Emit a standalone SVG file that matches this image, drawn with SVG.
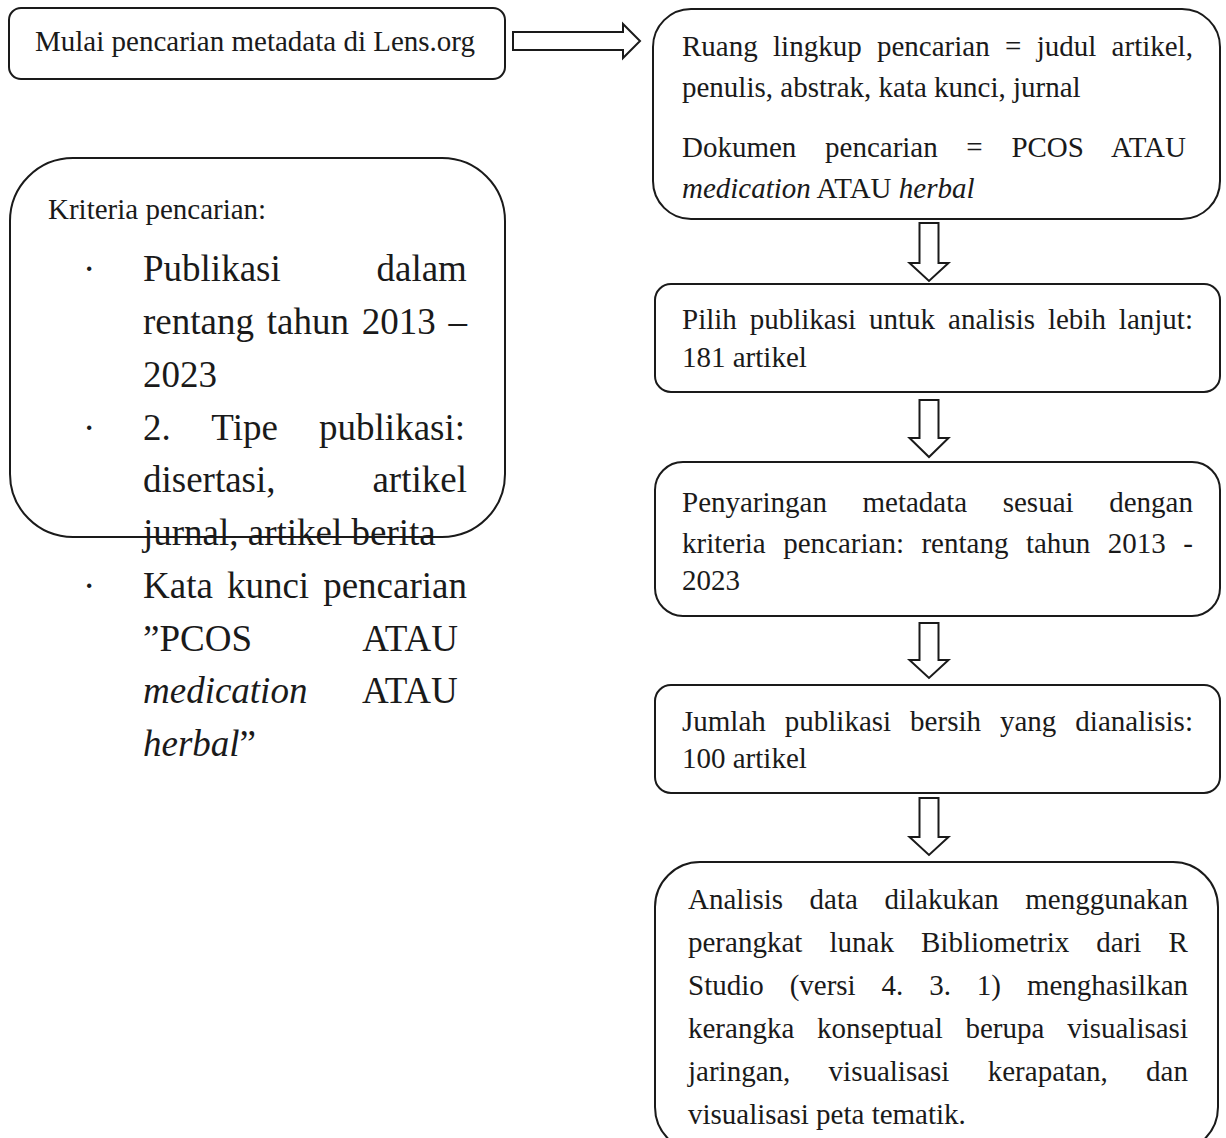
<svg xmlns="http://www.w3.org/2000/svg" width="1226" height="1138" viewBox="0 0 1226 1138">
<style>
.box{fill:#fff;stroke:#1a1a1a;stroke-width:2}
.arr{fill:#fff;stroke:#1a1a1a;stroke-width:2;stroke-linejoin:miter}
text{font-family:"Liberation Serif","Times New Roman",serif;fill:#1a1a1a}
.s{font-size:29px}
.b{font-size:37px}
.i{font-style:italic}
</style>
<rect width="1226" height="1138" fill="#fff"/>
<g id="connectors">
<path class="arr" d="M513,32 H623 V24 L640,41 L623,58 V50 H513 Z"/>
<path class="arr" d="M919.5,223 H938.5 V263 H948.5 L929,281 L909.5,263 H919.5 Z"/>
<path class="arr" d="M919.5,400 H938.5 V438 H948.5 L929,457 L909.5,438 H919.5 Z"/>
<path class="arr" d="M919.5,623 H938.5 V660 H948.5 L929,678 L909.5,660 H919.5 Z"/>
<path class="arr" d="M919.5,798 H938.5 V837 H948.5 L929,855 L909.5,837 H919.5 Z"/>
</g>
<g id="start">
<rect class="box" x="9" y="8" width="496" height="71" rx="12"/>
<text class="s" x="35" y="51">Mulai pencarian metadata di Lens.org</text>
</g>
<g id="criteria">
<rect class="box" x="10" y="158" width="495" height="379" rx="63"/>
<text class="s" x="48" y="219">Kriteria pencarian:</text>
<text class="b" x="83" y="281">·</text>
<text class="b" x="143" y="281" style="word-spacing:86.5px">Publikasi dalam</text>
<text class="b" x="143" y="334" style="word-spacing:3.5px">rentang tahun 2013 –</text>
<text class="b" x="143" y="387">2023</text>
<text class="b" x="83" y="440">·</text>
<text class="b" x="143" y="440" style="word-spacing:32px">2. Tipe publikasi:</text>
<text class="b" x="143" y="492" style="word-spacing:87.6px">disertasi, artikel</text>
<text class="b" x="143" y="545">jurnal, artikel berita</text>
<text class="b" x="83" y="598">·</text>
<text class="b" x="143" y="598" style="word-spacing:4.8px">Kata kunci pencarian</text>
<text class="b" x="143" y="651" style="word-spacing:103px">”PCOS ATAU</text>
<text class="b" x="143" y="703" style="word-spacing:47.5px"><tspan class="i">medication</tspan> ATAU</text>
<text class="b" x="143" y="756"><tspan class="i">herbal</tspan>”</text>
</g>
<g id="scope">
<rect class="box" x="653" y="9" width="567" height="210" rx="38"/>
<text class="s" x="682" y="56" style="word-spacing:8.07px">Ruang lingkup pencarian = judul artikel,</text>
<text class="s" x="682" y="97">penulis, abstrak, kata kunci, jurnal</text>
<text class="s" x="682" y="157" style="word-spacing:21.4px">Dokumen pencarian = PCOS ATAU</text>
<text class="s" x="682" y="198"><tspan class="i">medication</tspan> ATAU <tspan class="i">herbal</tspan></text>
</g>
<g id="select">
<rect class="box" x="655" y="284" width="565" height="108" rx="16"/>
<text class="s" x="682" y="329" style="word-spacing:5.69px">Pilih publikasi untuk analisis lebih lanjut:</text>
<text class="s" x="682" y="367">181 artikel</text>
</g>
<g id="filter">
<rect class="box" x="655" y="462" width="565" height="154" rx="28"/>
<text class="s" x="682" y="512" style="word-spacing:28.3px">Penyaringan metadata sesuai dengan</text>
<text class="s" x="682" y="553" style="word-spacing:10.23px">kriteria pencarian: rentang tahun 2013 -</text>
<text class="s" x="682" y="590">2023</text>
</g>
<g id="clean">
<rect class="box" x="655" y="685" width="565" height="108" rx="16"/>
<text class="s" x="682" y="731" style="word-spacing:11.75px">Jumlah publikasi bersih yang dianalisis:</text>
<text class="s" x="682" y="768">100 artikel</text>
</g>
<g id="analysis">
<rect class="box" x="655" y="862" width="563" height="290" rx="45"/>
<text class="s" x="688" y="909" style="word-spacing:19.28px">Analisis data dilakukan menggunakan</text>
<text class="s" x="688" y="952" style="word-spacing:19.87px">perangkat lunak Bibliometrix dari R</text>
<text class="s" x="688" y="995" style="word-spacing:18.65px">Studio (versi 4. 3. 1) menghasilkan</text>
<text class="s" x="688" y="1038" style="word-spacing:15.52px">kerangka konseptual berupa visualisasi</text>
<text class="s" x="688" y="1081" style="word-spacing:31.08px">jaringan, visualisasi kerapatan, dan</text>
<text class="s" x="688" y="1124">visualisasi peta tematik.</text>
</g>
</svg>
